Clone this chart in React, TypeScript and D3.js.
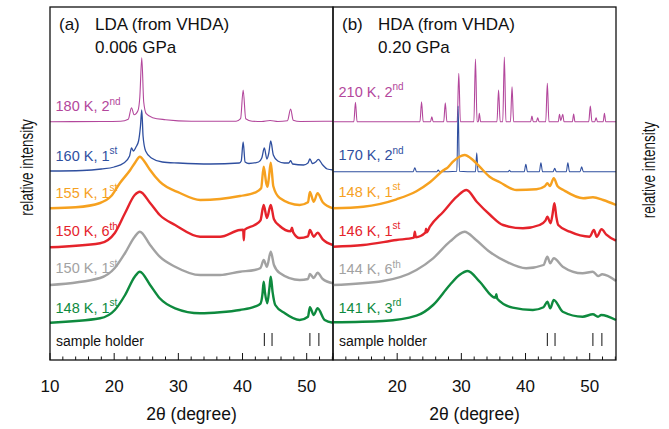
import React from "react";
import * as d3 from "d3";

// ---------- axis / labels ----------
const thetaDomain = [10, 54.1];
const intensityDomain = [0, 35.3];
const leftTickLabels = [10, 20, 30, 40, 50];
const rightTickLabels = [20, 30, 40, 50];
const holderLines = [43.4, 44.6, 50.5, 51.9];

const colors = ["#b3479c", "#2f4f9f", "#f6a11f", "#e5232b", "#a2a2a2", "#0e8a3e"];
const widths = [1.1, 1.3, 2.4, 2.4, 2.4, 2.4];
const widthsB = [1.1, 1.1, 2.4, 2.4, 2.4, 2.4];

// ---------- panel (a) LDA ----------
const lda180: [number, number][] = [
  [10, 0], [18, 0.02], [21, 0.05], [22.2, 0.25], [22.7, 1.4], [23.1, 0.7], [23.7, 1.1], [24.0, 2.5], [24.3, 6.4],
  [24.6, 2.0], [25.0, 0.8], [26, 0.4], [28, 0.2], [32, 0.05], [39, 0.05], [39.7, 0.3], [40.1, 3.17], [40.5, 0.3],
  [41.5, 0.05], [43, 0.02], [44.3, 0.12], [45.5, 0.02], [47, 0.1], [47.5, 1.27], [47.9, 0.15], [49, 0.02], [54.1, 0.05],
];
const lda160: [number, number][] = [
  [10, 0], [15, 0.05], [18, 0.2], [20, 0.4], [21.5, 0.8], [22.4, 1.5], [22.7, 2.3], [23.0, 2.0], [23.4, 2.4],
  [23.8, 3.0], [24.1, 4.5], [24.3, 6.1], [24.5, 3.5], [24.9, 2.0], [25.8, 1.3], [27.5, 0.9], [30, 0.8], [35, 0.7],
  [39.5, 0.8], [39.8, 1.0], [40.1, 2.9], [40.4, 0.9], [41, 0.75], [42.5, 0.9], [43.0, 1.3], [43.4, 2.3], [43.8, 1.2],
  [44.1, 1.8], [44.4, 3.0], [44.8, 1.6], [45.5, 1.0], [46.5, 0.8], [47.2, 0.8], [47.5, 1.03], [47.8, 0.7], [49.5, 0.6],
  [50.2, 0.8], [50.5, 1.2], [50.9, 0.75], [51.4, 0.9], [51.8, 1.17], [52.5, 0.6], [53.2, 0.2], [54.1, 0.1],
];
const lda155: [number, number][] = [
  [10, 0], [14, 0.1], [17.8, 0.53], [19.5, 1.2], [20.9, 2.53], [22.5, 3.83], [23.3, 4.6], [24.0, 5.16], [24.8, 4.6],
  [25.6, 3.83], [27.1, 2.66], [30.25, 1.53], [33.4, 0.83], [36.5, 0.93], [39.6, 1.23], [41.9, 1.56], [42.9, 2.0],
  [43.3, 4.16], [43.7, 2.5], [43.9, 2.16], [44.1, 3.0], [44.4, 4.56], [44.8, 2.2], [45.8, 1.03], [48.9, 0.33],
  [50.2, 0.6], [50.5, 1.63], [51.1, 0.66], [51.7, 1.5], [52.5, 0.6], [54.1, 0.0],
];
const lda150b: [number, number][] = [
  [10, 0], [17.8, 0.4], [20.1, 1.43], [21.7, 3.43], [23.2, 5.23], [24.0, 5.56], [25.6, 4.43], [27.1, 3.23],
  [29.5, 2.23], [33.4, 1.06], [36.5, 1.06], [39.6, 1.73], [40.1, 1.75], [40.2, 0.7], [40.3, 1.75], [41.9, 2.23],
  [42.8, 2.7], [43.3, 4.23], [43.8, 2.93], [44.4, 4.23], [44.9, 2.8], [45.8, 2.13], [47.5, 1.6], [47.7, 1.95],
  [47.9, 1.5], [48.9, 0.93], [50.2, 1.1], [50.5, 1.73], [51.1, 1.06], [51.7, 1.46], [52.5, 0.8], [54.1, 0.23],
];
const lda150a: [number, number][] = [
  [10, 0], [17.8, 0.7], [20.1, 1.7], [21.7, 3.2], [23.2, 4.83], [24.0, 5.33], [25.6, 4.0], [27.1, 2.83], [29.5, 1.83],
  [33.4, 1.0], [36.5, 1.0], [39.6, 1.33], [41.9, 1.5], [42.8, 1.7], [43.3, 2.5], [43.8, 1.83], [44.4, 3.33],
  [44.9, 2.0], [45.8, 1.2], [48.9, 0.5], [50.2, 0.6], [50.5, 1.1], [51.1, 0.7], [51.7, 1.23], [52.5, 0.6], [54.1, 0.17],
];
const lda148: [number, number][] = [
  [10, 0], [17.8, 0.44], [20.1, 1.27], [21.7, 2.77], [23.2, 4.6], [24.0, 5.1], [25.6, 3.77], [27.1, 2.44], [29.5, 1.44],
  [33.4, 0.94], [36.5, 1.04], [39.6, 1.27], [41.9, 1.6], [42.8, 1.9], [43.1, 2.8], [43.3, 4.1], [43.5, 3.0],
  [43.85, 1.94], [44.2, 3.5], [44.4, 4.6], [44.7, 3.0], [45.1, 1.77], [46.6, 0.94], [48.9, 0.27], [50.2, 0.6],
  [50.5, 1.54], [51.1, 0.77], [51.7, 1.44], [52.8, 0.27], [54.1, 0],
];
const ldaOffsets = [23.83, 18.9, 15.17, 11.27, 7.5, 3.73];
const ldaLabelY = [24.9, 19.95, 16.25, 12.4, 8.67, 4.75];
const ldaLabels = [["180 K, 2", "nd"], ["160 K, 1", "st"], ["155 K, 1", "st"], ["150 K, 6", "th"], ["150 K, 1", "st"], ["148 K, 1", "st"]];

// ---------- panel (b) HDA ----------
const hda210: [number, number][] = [
  [10, 0], [13.25, 0], [13.5, 1.94], [13.75, 0], [23.55, 0], [23.8, 2.0], [24.05, 0], [25.2, 0], [25.4, 0.5], [25.6, 0],
  [27.25, 0], [27.5, 1.9], [27.75, 0], [29.35, 0], [29.6, 4.84], [29.85, 0], [31.95, 0], [32.2, 6.27], [32.45, 0],
  [32.65, 0], [32.8, 0.84], [33.0, 0], [35.55, 0], [35.8, 3.17], [36.05, 0], [36.45, 0], [36.7, 6.47], [36.95, 0],
  [37.65, 0], [37.9, 3.5], [38.15, 0], [40.8, 0], [41.0, 0.57], [41.2, 0], [41.7, 0], [41.9, 0.4], [42.1, 0],
  [43.15, 0], [43.4, 3.84], [43.65, 0], [45.1, 0], [45.3, 0.74], [45.5, 0.1], [45.8, 0.74], [46.0, 0], [47.3, 0],
  [47.5, 0.77], [47.7, 0], [49.85, 0], [50.1, 1.57], [50.35, 0], [50.8, 0], [51.0, 0.4], [51.2, 0], [52.1, 0],
  [52.3, 0.84], [52.5, 0], [54.1, 0],
];
const hda170: [number, number][] = [
  [10, 0], [22.5, 0], [22.75, 0.4], [23.0, 0], [26.2, 0], [26.4, 0.17], [26.6, 0], [29.3, 0.05], [29.5, 6.57],
  [29.7, 0.05], [32.2, 0], [32.4, 1.9], [32.6, 0], [37.3, 0], [37.5, 0.14], [37.7, 0], [39.8, 0], [40.05, 0.74],
  [40.3, 0], [42.15, 0], [42.4, 0.9], [42.65, 0], [44.3, 0], [44.55, 0.34], [44.8, 0], [46.35, 0], [46.6, 0.9],
  [46.85, 0], [48.5, 0], [48.75, 0.5], [49.0, 0], [54.1, 0],
];
const hda148: [number, number][] = [
  [10, 0], [14.7, 0.16], [19.9, 0.9], [23.0, 1.7], [25.1, 2.6], [27.2, 3.8], [27.9, 4.1], [28.7, 4.66], [29.7, 5.16],
  [30.5, 5.33], [31.8, 4.83], [32.85, 4.16], [34.4, 3.16], [36.0, 2.6], [38.6, 1.83], [41.7, 1.9], [43.0, 2.2],
  [43.4, 2.5], [43.8, 2.23], [44.4, 3.0], [45.0, 2.2], [45.9, 1.83], [49.0, 1.0], [50.5, 1.1], [52.1, 0.83], [54.1, 0.33],
];
const hda146: [number, number][] = [
  [10, 0], [14.7, 0.17], [19.9, 0.67], [22.6, 0.9], [22.75, 1.5], [22.9, 0.95], [24.4, 1.4], [24.5, 1.8], [24.6, 1.45],
  [25.1, 2.0], [27.2, 3.5], [29.3, 5.0], [30.8, 5.67], [32.4, 4.5], [34.5, 3.17], [36.5, 2.17], [39.6, 1.84],
  [42.2, 2.17], [43.1, 2.6], [43.4, 3.0], [43.9, 2.34], [44.2, 3.2], [44.5, 4.34], [44.8, 3.0], [45.1, 2.17],
  [46.9, 1.5], [50.0, 1.0], [50.65, 1.67], [51.1, 1.0], [51.85, 1.74], [52.6, 1.2], [54.1, 0.6],
];
const hda144: [number, number][] = [
  [10, 0], [17.8, 0.4], [23.0, 1.5], [25.6, 2.67], [28.2, 4.33], [30.5, 5.33], [32.3, 4.5], [34.4, 3.33], [37.0, 2.33],
  [40.1, 1.67], [42.8, 2.0], [43.4, 2.83], [43.85, 2.17], [44.4, 2.67], [45.8, 1.83], [48.9, 1.17], [50.5, 1.33],
  [51.3, 0.9], [51.95, 1.07], [54.1, 0.4],
];
const hda141: [number, number][] = [
  [10, 0], [17.8, 0.13], [23.0, 0.66], [25.6, 1.73], [28.2, 3.73], [29.7, 4.73], [31.0, 5.13], [32.85, 4.06],
  [35.3, 2.45], [35.45, 2.8], [35.6, 2.35], [38.0, 1.46], [41.15, 1.23], [42.8, 1.5], [43.4, 2.06], [43.85, 1.4],
  [44.4, 2.23], [45.8, 1.06], [48.9, 0.56], [50.5, 0.8], [51.3, 0.56], [51.8, 0.73], [54.1, 0.23],
];
const hdaOffsets = [23.83, 18.83, 15.17, 11.33, 7.5, 3.77];
const hdaLabelY = [26.33, 19.97, 16.33, 12.45, 8.6, 4.72];
const hdaLabels = [["210 K, 2", "nd"], ["170 K, 2", "nd"], ["148 K, 1", "st"], ["146 K, 1", "st"], ["144 K, 6", "th"], ["141 K, 3", "rd"]];

const FONT = "'Liberation Sans', Arial, Helvetica, sans-serif";

type PanelProps = {
  x0: number;
  x1: number;
  series: [number, number][][];
  offsets: number[];
  labels: string[][];
  labelY: number[];
  tickLabels: number[];
  tag: string;
  title: string;
  sub: string;
  lw: number[];
};

function Panel({ x0, x1, series, offsets, labels, labelY, tickLabels, tag, title, sub, lw }: PanelProps) {
  const x = d3.scaleLinear().domain(thetaDomain).range([x0, x1]);
  const y = d3.scaleLinear().domain(intensityDomain).range([360, 7]);
  const ticks = d3.range(10, 54.01, 2);
  return (
    <g>
      {series.map((s, i) => {
        const line = d3
          .line<[number, number]>()
          .x((d) => x(d[0]))
          .y((d) => y(d[1] + offsets[i]))
          .curve(d3.curveMonotoneX);
        return (
          <path key={i} d={line(s) || ""} fill="none" stroke={colors[i]} strokeWidth={lw[i]} strokeLinejoin="round" />
        );
      })}
      {labels.map((l, i) => (
        <text key={i} x={x0 + 5.5} y={y(labelY[i])} fill={colors[i]} fontSize={14.5}>
          {l[0]}
          <tspan dy={-6.5} fontSize={10}>
            {l[1]}
          </tspan>
        </text>
      ))}
      <text x={x0 + 6} y={y(1.42)} fontSize={14} fill="#111">
        sample holder
      </text>
      {holderLines.map((h, i) => (
        <line key={i} x1={x(h)} x2={x(h)} y1={y(1.4)} y2={y(2.7)} stroke="#111" strokeWidth={1} />
      ))}
      <rect x={x0} y={y(intensityDomain[1])} width={x1 - x0} height={y(0) - y(intensityDomain[1])} fill="none" stroke="#111" strokeWidth={1.3} />
      {ticks.map((t) => (
        <line key={t} x1={x(t)} x2={x(t)} y1={y(0)} y2={y(0) - (t % 10 === 0 ? 7 : 3.5)} stroke="#111" strokeWidth={1} />
      ))}
      {tickLabels.map((t) => (
        <text key={t} x={x(t)} y={391.5} textAnchor="middle" fontSize={17} fill="#111">
          {t}
        </text>
      ))}
      <text x={(x0 + x1) / 2} y={419.5} textAnchor="middle" fontSize={17.5} fill="#111">
        2θ (degree)
      </text>
      <text x={x0 + 9} y={30} fontSize={17} fill="#111">
        {tag}
      </text>
      <text x={x0 + 45} y={30} fontSize={17} fill="#111">
        {title}
      </text>
      <text x={x0 + 45} y={53.3} fontSize={17} fill="#111">
        {sub}
      </text>
    </g>
  );
}

export default function App() {
  return (
    <svg
      width={669}
      height={429}
      viewBox="0 0 669 429"
      style={{ position: "absolute", left: 0, top: 0, background: "#fff" }}
      fontFamily={FONT}
    >
      <Panel
        x0={50}
        x1={333}
        series={[lda180, lda160, lda155, lda150b, lda150a, lda148]}
        offsets={ldaOffsets}
        labels={ldaLabels}
        labelY={ldaLabelY}
        tickLabels={leftTickLabels}
        tag="(a)"
        title="LDA (from VHDA)"
        sub="0.006 GPa"
        lw={widths}
      />
      <Panel
        x0={333}
        x1={616}
        series={[hda210, hda170, hda148, hda146, hda144, hda141]}
        offsets={hdaOffsets}
        labels={hdaLabels}
        labelY={hdaLabelY}
        tickLabels={rightTickLabels}
        tag="(b)"
        title="HDA (from VHDA)"
        sub="0.20 GPa"
        lw={widthsB}
      />
      <g transform="translate(32.5,167.5) rotate(-90) scale(0.71,1)">
        <text textAnchor="middle" fontSize={19} fill="#111">
          relative intensity
        </text>
      </g>
      <g transform="translate(655,170) rotate(-90) scale(0.71,1)">
        <text textAnchor="middle" fontSize={19} fill="#111">
          relative intensity
        </text>
      </g>
    </svg>
  );
}
